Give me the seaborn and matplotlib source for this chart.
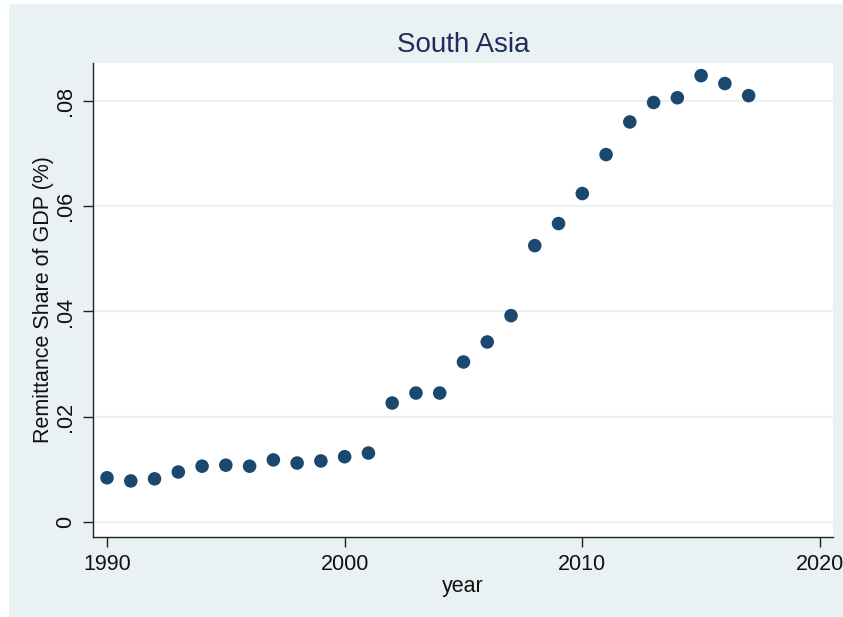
import matplotlib
matplotlib.use("Agg")
import matplotlib.pyplot as plt
from matplotlib.patches import Rectangle
import seaborn as sns
import pandas as pd

# Remittance inflows as a share of GDP, South Asia
years = list(range(1990, 2018))
share = [0.0084, 0.0078, 0.0082, 0.0095, 0.0106, 0.0108, 0.0106, 0.0118,
         0.0112, 0.0116, 0.0124, 0.0131, 0.0226, 0.0245, 0.0245, 0.0304,
         0.0342, 0.0392, 0.0525, 0.0567, 0.0624, 0.0698, 0.0760, 0.0797,
         0.0806, 0.0848, 0.0833, 0.0810]
x_ticks = [1990, 2000, 2010, 2020]
y_ticks = [0, 0.02, 0.04, 0.06, 0.08]
y_tick_labels = ["0", ".02", ".04", ".06", ".08"]

df = pd.DataFrame({"year": years, "share": share})

sns.set_theme(style="white")
plt.rcParams["font.family"] = ["Liberation Sans", "DejaVu Sans"]

panel = "#eaf1f3"
navy = "#1b486f"
fig = plt.figure(figsize=(8.43, 6.17), dpi=100, facecolor="white")
fig.patches.append(Rectangle((9 / 843, 0.0), 1.0, 1 - 4 / 617,
                             transform=fig.transFigure, facecolor=panel,
                             edgecolor="none", zorder=-10))

ax = fig.add_axes([93 / 843, 80 / 617, 740 / 843, 474 / 617])
ax.set_facecolor("white")

sns.scatterplot(data=df, x="year", y="share", ax=ax, color=navy,
                s=95, edgecolor="none", zorder=3)

ax.set_xlim(1989.41, 2020.55)
ax.set_ylim(-0.00285, 0.0872)
ax.set_xticks(x_ticks)
ax.set_yticks(y_ticks)
ax.set_yticklabels(y_tick_labels, rotation=90, va="center")
ax.grid(axis="y", color="#eaf1f3", linewidth=1.6, zorder=0)
ax.grid(axis="x", visible=False)

for side in ["top", "right"]:
    ax.spines[side].set_visible(False)
for side in ["left", "bottom"]:
    ax.spines[side].set_color("#222222")
    ax.spines[side].set_linewidth(1.0)

ax.tick_params(axis="both", direction="out", length=7, width=1.0,
               color="#222222", labelsize=15.5, labelcolor="#111111", pad=5,
               bottom=True, left=True)

ax.set_xlabel("year", fontsize=15.5, color="#111111", labelpad=1)
ax.set_ylabel("Remittance Share of GDP (%)", fontsize=15.5, color="#111111", labelpad=1)
ax.set_title("South Asia", fontsize=20, color="#1f2d5a", pad=8)

fig.savefig("out.png", dpi=100, facecolor=fig.get_facecolor())
